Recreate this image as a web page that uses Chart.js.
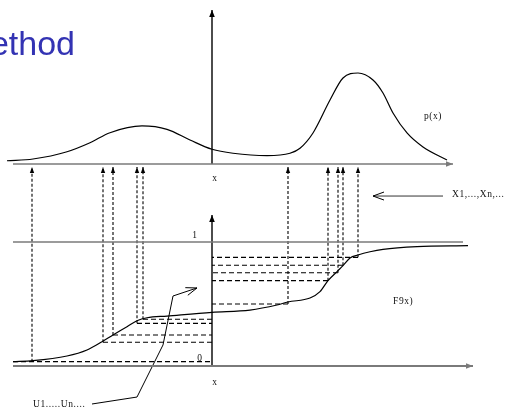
<!DOCTYPE html>
<html><head><meta charset="utf-8">
<script src="https://cdn.jsdelivr.net/npm/chart.js@4/dist/chart.umd.min.js"></script>
<style>html,body{margin:0;padding:0;background:#fff;overflow:hidden}canvas{display:block}</style>
</head><body>
<canvas id="c" width="509" height="409"></canvas>
<script>
// ---- data (x measured from the vertical axis) ----
// density p(x)
const pdfX = [-205,-179,-145,-122,-102,-70,-45,-22,0,21,55,78,88,101,118,131,146,161,171,181,195,211,235];
const pdfY = [0.036,0.055,0.135,0.234,0.344,0.418,0.381,0.264,0.162,0.118,0.091,0.118,0.173,0.341,0.703,0.945,1.0,0.923,0.780,0.560,0.341,0.187,0.044];
// distribution function F(x)
const cdfX = [-199,-179,-145,-125,-110,-99,-85,-75,-65,-45,0,38,65,76,98,108,116,126,131,138,146,158,171,205,256];
const cdfY = [0.003,0.011,0.050,0.100,0.169,0.225,0.294,0.344,0.369,0.383,0.414,0.433,0.475,0.500,0.533,0.586,0.678,0.761,0.803,0.867,0.892,0.919,0.939,0.961,0.969];
// samples X1..Xn and the uniform values U1..Un that produce them
const sampleX = [-180,-109,-99,-75,-69,76,116,126,131,146];
const sampleU = [0.003,0.164,0.225,0.322,0.356,0.483,0.678,0.744,0.806,0.872];
// pointer from the U label to the vertical axis
const uPointerX = [-120,-75,-49,-39,-15];
const uPointerY = [-0.35,-0.292,0.142,0.55,0.617];
// text labels
const labelText = ['p(x)','x','X1,...,Xn,...','1','0','x','F9x)','U1.....Un....'];
const titleText = 'Method';

// ---- layout constants ----
const ARROW_TOP_F = 1.625;      // where the sample arrows end (just under the p(x) baseline)
const F_AXIS = -0.0333;          // bottom axis level in F units
const GREY = '#7a7a7a';

const pts = (xs, ys) => xs.map((x, i) => ({x, y: ys[i]}));
const datasets = [];
function line(data, axis, o) {
  datasets.push(Object.assign({data, yAxisID: axis, showLine: true, pointRadius: 0,
    borderColor: '#000', borderWidth: 1, tension: 0, fill: false, clip: false}, o || {}));
}
// axes
line([{x:-199,y:0},{x:241,y:0}], 'yp', {borderColor: GREY, borderWidth: 1.6, arrow: 'filled', arrowColor: GREY});
line([{x:0,y:0},{x:0,y:1.692}], 'yp', {borderWidth: 1.4, arrow: 'filled'});
line([{x:-199,y:1},{x:251,y:1}], 'yF', {borderColor: GREY, borderWidth: 1.4});
line([{x:-199,y:F_AXIS},{x:261,y:F_AXIS}], 'yF', {borderColor: GREY, borderWidth: 1.8, arrow: 'filled', arrowColor: GREY});
line([{x:0,y:F_AXIS},{x:0,y:1.225}], 'yF', {borderWidth: 1.4, arrow: 'filled'});
// dashed construction lines
sampleX.forEach((sx, i) => {
  const startX = i === 0 ? cdfX[0] : sx;
  line([{x:startX,y:sampleU[i]},{x:0,y:sampleU[i]}], 'yF', {borderDash:[5,3], borderWidth: 1.1});
  line([{x:sx,y:sampleU[i]},{x:sx,y:ARROW_TOP_F}], 'yF', {borderDash:[3,2], borderWidth: 1.1, arrow: 'small'});
});
// curves
line(pts(pdfX, pdfY), 'yp', {cubicInterpolationMode: 'monotone', borderWidth: 1.2});
line(pts(cdfX, cdfY), 'yF', {cubicInterpolationMode: 'monotone', borderWidth: 1.2});
// pointers
line([{x:231,y:1.383},{x:161,y:1.383}], 'yF', {borderWidth: 1, borderColor: '#333', arrow: 'open'});
line(pts(uPointerX, uPointerY), 'yF', {borderWidth: 1, arrow: 'open'});

// label placement in data units: [x, y, axis, align]
const labelPos = [[221,0.527,'yp','center'],[3,-0.154,'yp','center'],[240,1.392,'yF','left'],
  [-17,1.05,'yF','center'],[-12,0.025,'yF','center'],[3,-0.175,'yF','center'],[181,0.508,'yF','left'],[-179,-0.358,'yF','left']];

function arrowHead(ctx, x1, y1, x2, y2, kind, color) {
  const a = Math.atan2(y2 - y1, x2 - x1);
  let len = 7, hw = 2.8;
  if (kind === 'small') { len = 6; hw = 2.2; }
  if (kind === 'open') { len = 11; hw = 4; }
  const bx = x2 - len * Math.cos(a), by = y2 - len * Math.sin(a);
  const px = -Math.sin(a) * hw, py = Math.cos(a) * hw;
  ctx.save();
  ctx.setLineDash([]);
  ctx.fillStyle = color; ctx.strokeStyle = color; ctx.lineWidth = 1;
  ctx.beginPath();
  if (kind === 'open') {
    ctx.moveTo(bx + px, by + py); ctx.lineTo(x2, y2); ctx.lineTo(bx - px, by - py);
    ctx.stroke();
  } else {
    ctx.moveTo(x2, y2); ctx.lineTo(bx + px, by + py); ctx.lineTo(bx - px, by - py); ctx.closePath();
    ctx.fill();
  }
  ctx.restore();
}

const decor = {
  id: 'decor',
  afterDatasetsDraw(chart) {
    const ctx = chart.ctx;
    chart.data.datasets.forEach((ds, i) => {
      if (!ds.arrow) return;
      const els = chart.getDatasetMeta(i).data;
      const a = els[els.length - 2], b = els[els.length - 1];
      arrowHead(ctx, a.x, a.y, b.x, b.y, ds.arrow, ds.arrowColor || '#000');
    });
    const xs = chart.scales.x;
    ctx.save();
    ctx.fillStyle = '#111';
    ctx.textBaseline = 'middle';
    ctx.font = '9.5px "Liberation Serif", "DejaVu Serif", serif';
    ctx.letterSpacing = '0.6px';
    labelText.forEach((t, i) => {
      const [x, y, ax, al] = labelPos[i];
      ctx.textAlign = al;
      ctx.fillText(t, xs.getPixelForValue(x), chart.scales[ax].getPixelForValue(y));
    });
    ctx.letterSpacing = '0px';
    ctx.fillStyle = 'rgb(51,51,179)';
    ctx.textAlign = 'right';
    ctx.textBaseline = 'alphabetic';
    ctx.font = '34px "Liberation Sans", Arial, sans-serif';
    ctx.fillText(titleText, xs.getPixelForValue(-137), chart.scales.yp.getPixelForValue(1.198));
    ctx.restore();
  }
};

new Chart(document.getElementById('c'), {
  type: 'scatter',
  data: {datasets},
  options: {
    responsive: false, devicePixelRatio: 1, animation: false,
    layout: {padding: 0},
    plugins: {legend: {display: false}, tooltip: {enabled: false}, title: {display: false}},
    events: [],
    scales: {
      x: {type: 'linear', min: -212, max: 297, display: false},
      yp: {type: 'linear', position: 'left', min: -2.6923, max: 1.8022, display: false},
      yF: {type: 'linear', position: 'left', min: -0.39167, max: 3.01667, display: false}
    }
  },
  plugins: [decor]
});
</script>
</body></html>
